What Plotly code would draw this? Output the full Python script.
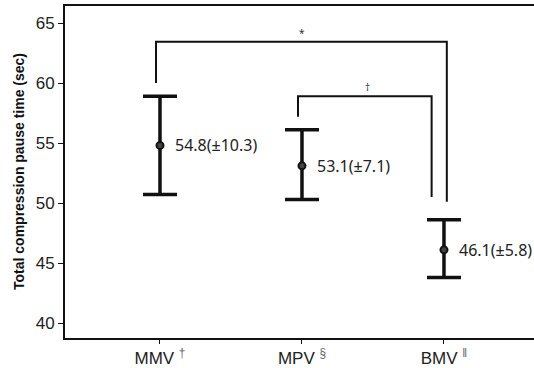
import plotly.graph_objects as go

categories = ["MMV", "MPV", "BMV"]
category_marks = ["†", "§", "‖"]
means = [54.8, 53.1, 46.1]
sds = [10.3, 7.1, 5.8]
ci_upper = [58.9, 56.1, 48.6]
ci_lower = [50.7, 50.3, 43.8]
y_ticks = [40, 45, 50, 55, 60, 65]

# significance brackets: (from idx, to idx, bar height, left leg end, right leg end, symbol)
brackets = [
    (0, 2, 63.45, 60.0, 50.1, "*"),
    (1, 2, 58.9, 57.2, 50.5, "†"),
]
leg_offsets = [(-0.028, 0.02), (-0.028, -0.087)]

xs = list(range(len(categories)))
tick_text = [f"{c} <sup><span style='color:#666'>{m}</span></sup>" for c, m in zip(categories, category_marks)]

fig = go.Figure()
fig.add_trace(go.Scatter(
    x=xs, y=means, mode="markers",
    marker=dict(symbol="circle", size=7, color="#444", line=dict(color="#111", width=2)),
    error_y=dict(type="data", symmetric=False,
                 array=[u - m for u, m in zip(ci_upper, means)],
                 arrayminus=[m - l for m, l in zip(means, ci_lower)],
                 color="#111", thickness=3.5, width=17),
    showlegend=False, hoverinfo="skip",
))

for i, (m, s) in enumerate(zip(means, sds)):
    fig.add_annotation(x=xs[i], y=m, xref="x", yref="y", text=f"{m:.1f}(±{s:.1f})",
                       showarrow=False, xanchor="left", xshift=13, yshift=0,
                       font=dict(family="Noto Sans", size=16, color="#222"))

for (a, b, h, la, lb, sym), (oa, ob) in zip(brackets, leg_offsets):
    xa, xb = xs[a] + oa, xs[b] + ob
    fig.add_shape(type="path", xref="x", yref="y",
                  path=f"M {xa} {la} L {xa} {h} L {xb} {h} L {xb} {lb}",
                  line=dict(color="#111", width=2))
    fig.add_annotation(x=(xs[a] + xs[b]) / 2 if a == 0 else xa + 0.49, y=h, xref="x", yref="y",
                       text=sym, showarrow=False, yshift=9,
                       font=dict(family="Noto Sans", size=10, color="#333"))

fig.add_annotation(text="<b>Total compression pause time (sec)</b>", xref="paper", yref="paper",
                   x=0, y=0.5, xshift=-46, textangle=-90, showarrow=False,
                   xanchor="center", yanchor="middle",
                   font=dict(family="Liberation Sans", size=14, color="#111"))

fig.update_layout(
    width=534, height=368,
    margin=dict(l=65, r=0, t=6, b=30),
    paper_bgcolor="white", plot_bgcolor="white",
    xaxis=dict(range=[-0.669, 2.634], tickvals=xs, ticktext=tick_text,
               showline=True, linecolor="#111", linewidth=2, mirror=True,
               ticks="outside", ticklen=4, tickcolor="#111", tickwidth=1,
               showgrid=False, zeroline=False,
               tickfont=dict(family="Liberation Sans", size=17, color="#222")),
    yaxis=dict(range=[38.75, 66.42], tickvals=y_ticks,
               showline=True, linecolor="#111", linewidth=2,
               ticks="outside", ticklen=5, tickcolor="#111", tickwidth=1,
               showgrid=False, zeroline=False,
               tickfont=dict(family="Liberation Sans", size=17, color="#222")),
)

fig.write_html("out.html")
